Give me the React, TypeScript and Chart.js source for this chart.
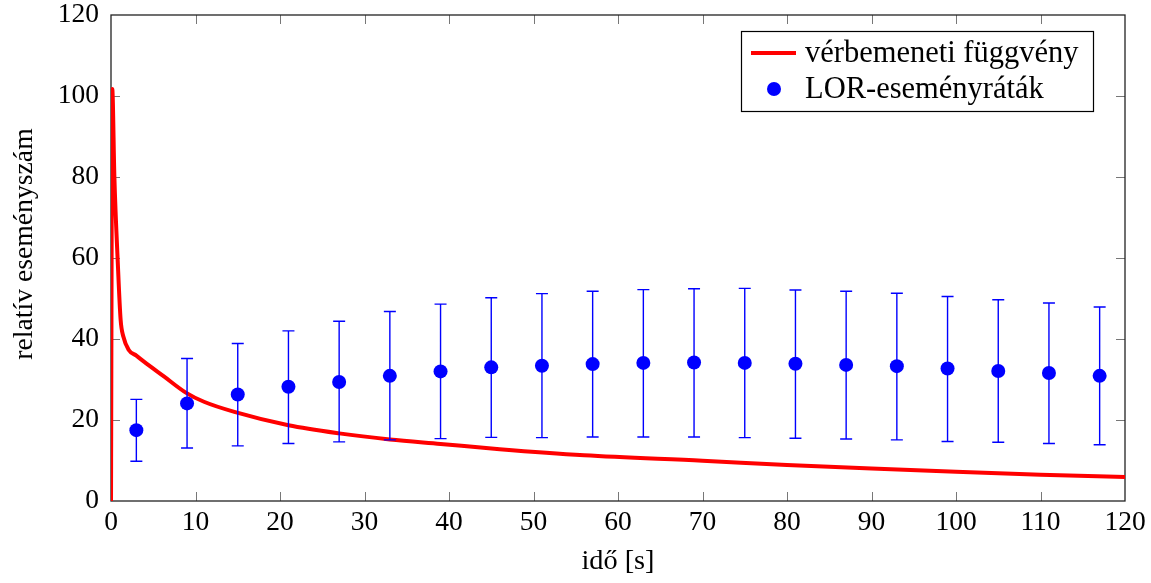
import React, { useEffect, useRef } from 'react';
import { Chart, registerables } from 'chart.js';

Chart.register(...registerables);

// Arterial input function (time in s, relative count)
const inputTimes = [0, 0.15, 0.4, 0.8, 1.14, 1.46, 2.1, 3, 3.9, 6.3, 8.9, 11, 14.6, 21, 27, 33, 39, 46, 56, 70, 80, 90, 100, 110, 120];
const inputValues = [0, 101.7, 80, 59, 44.7, 40.6, 37.3, 35.9, 34.4, 30.7, 26.7, 24.5, 22.0, 18.7, 16.7, 15.2, 14.1, 12.8, 11.3, 9.95, 8.9, 8.0, 7.2, 6.5, 5.9];

// LOR event rates with error limits
const rateTimes = [3, 9, 15, 21, 27, 33, 39, 45, 51, 57, 63, 69, 75, 81, 87, 93, 99, 105, 111, 117];
const rateValues = [17.5, 24.1, 26.3, 28.2, 29.4, 30.9, 32.0, 33.0, 33.4, 33.8, 34.1, 34.2, 34.1, 33.9, 33.6, 33.3, 32.7, 32.1, 31.6, 30.9];
const rateUpper = [25.1, 35.2, 38.9, 42.0, 44.4, 46.8, 48.6, 50.2, 51.2, 51.8, 52.2, 52.4, 52.5, 52.1, 51.8, 51.3, 50.5, 49.7, 48.9, 47.9];
const rateLower = [9.8, 13.1, 13.6, 14.2, 14.6, 15.1, 15.4, 15.7, 15.65, 15.8, 15.8, 15.8, 15.65, 15.5, 15.3, 15.1, 14.7, 14.5, 14.2, 13.9];

const xTicks = [0, 10, 20, 30, 40, 50, 60, 70, 80, 90, 100, 110, 120];
const yTicks = [0, 20, 40, 60, 80, 100, 120];

const Y_TITLE = 'relatív eseményszám';

const FONT = "'Liberation Serif', 'DejaVu Serif', serif";
const RED = '#ff0000';
const BLUE = '#0000ff';

const framePlugin = {
  id: 'frame',
  beforeDatasetsDraw(chart: any) {
    const { ctx, chartArea: a, scales } = chart;
    const x = scales.x;
    const y = scales.y;
    const len = 9;
    ctx.save();
    ctx.strokeStyle = '#777';
    ctx.lineWidth = 1;
    ctx.beginPath();
    xTicks.forEach((v) => {
      if (v === xTicks[0] || v === xTicks[xTicks.length - 1]) return;
      const px = Math.round(x.getPixelForValue(v)) + 0.5;
      ctx.moveTo(px, a.bottom);
      ctx.lineTo(px, a.bottom - len);
      ctx.moveTo(px, a.top);
      ctx.lineTo(px, a.top + len);
    });
    yTicks.forEach((v) => {
      if (v === yTicks[0] || v === yTicks[yTicks.length - 1]) return;
      const py = Math.round(y.getPixelForValue(v)) + 0.5;
      ctx.moveTo(a.left, py);
      ctx.lineTo(a.left + len, py);
      ctx.moveTo(a.right, py);
      ctx.lineTo(a.right - len, py);
    });
    ctx.stroke();
    ctx.strokeStyle = '#222';
    ctx.lineWidth = 1.3;
    ctx.strokeRect(a.left, a.top, a.right - a.left, a.bottom - a.top);

    // vertical axis title
    ctx.fillStyle = '#000';
    ctx.font = `27.7px ${FONT}`;
    ctx.textAlign = 'center';
    ctx.textBaseline = 'alphabetic';
    ctx.translate(32, 244);
    ctx.rotate(-Math.PI / 2);
    ctx.fillText(Y_TITLE, 0, 0);
    ctx.restore();
  },
};

const errorBarPlugin = {
  id: 'errorBars',
  beforeDatasetDraw(chart: any, args: any) {
    if (args.index !== 1) return;
    const { ctx, scales } = chart;
    const x = scales.x;
    const y = scales.y;
    const cap = 6;
    ctx.save();
    ctx.strokeStyle = BLUE;
    ctx.lineWidth = 1.4;
    ctx.beginPath();
    rateTimes.forEach((t, i) => {
      const px = x.getPixelForValue(t);
      const lo = y.getPixelForValue(rateLower[i]);
      const hi = y.getPixelForValue(rateUpper[i]);
      ctx.moveTo(px, lo);
      ctx.lineTo(px, hi);
      ctx.moveTo(px - cap, lo);
      ctx.lineTo(px + cap, lo);
      ctx.moveTo(px - cap, hi);
      ctx.lineTo(px + cap, hi);
    });
    ctx.stroke();
    ctx.restore();
  },
};

const legendPlugin = {
  id: 'boxLegend',
  afterDraw(chart: any) {
    const { ctx } = chart;
    const ds = chart.data.datasets;
    const left = 741;
    const top = 31;
    const w = 352;
    const h = 80;
    ctx.save();
    ctx.fillStyle = '#fff';
    ctx.fillRect(left, top, w, h);
    ctx.strokeStyle = '#000';
    ctx.lineWidth = 1.2;
    ctx.strokeRect(left + 0.5, top + 0.5, w, h);
    // line sample
    ctx.strokeStyle = ds[0].borderColor;
    ctx.lineWidth = 4;
    ctx.beginPath();
    ctx.moveTo(751, 53);
    ctx.lineTo(796, 53);
    ctx.stroke();
    // marker sample
    ctx.fillStyle = ds[1].backgroundColor;
    ctx.beginPath();
    ctx.arc(774, 89, 7, 0, Math.PI * 2);
    ctx.fill();
    ctx.fillStyle = '#000';
    ctx.font = `30.5px ${FONT}`;
    ctx.textBaseline = 'alphabetic';
    ctx.textAlign = 'left';
    ctx.fillText(ds[0].label, 805, 62);
    ctx.fillText(ds[1].label, 805, 97.5);
    ctx.restore();
  },
};

export default function App() {
  const ref = useRef<HTMLCanvasElement>(null);

  useEffect(() => {
    const canvas = ref.current;
    if (!canvas) return;
    const chart = new Chart(canvas, {
      type: 'scatter',
      data: {
        datasets: [
          {
            type: 'line',
            label: 'vérbemeneti függvény',
            data: inputTimes.map((t, i) => ({ x: t, y: inputValues[i] })),
            borderColor: RED,
            backgroundColor: RED,
            borderWidth: 4,
            pointRadius: 0,
            cubicInterpolationMode: 'monotone',
            fill: false,
            order: 1,
          } as any,
          {
            type: 'scatter',
            label: 'LOR-eseményráták',
            data: rateTimes.map((t, i) => ({ x: t, y: rateValues[i] })),
            backgroundColor: BLUE,
            borderColor: BLUE,
            borderWidth: 0,
            pointRadius: 7,
            order: 0,
          },
        ],
      },
      options: {
        responsive: false,
        devicePixelRatio: 1,
        animation: false,
        layout: { padding: { top: 15, right: 26, left: 0, bottom: 0 } },
        plugins: {
          legend: { display: false },
          tooltip: { enabled: false },
        },
        scales: {
          x: {
            type: 'linear',
            min: 0,
            max: 120,
            afterBuildTicks: (s: any) => {
              s.ticks = xTicks.map((v) => ({ value: v }));
            },
            afterFit: (s: any) => {
              s.height = 82;
              s.paddingLeft = 0;
              s.paddingRight = 0;
            },
            ticks: {
              color: '#000',
              font: { family: FONT, size: 27.5, lineHeight: 1.2 },
              padding: 5,
              maxRotation: 0,
              autoSkip: false,
            },
            grid: { display: false, drawTicks: false },
            border: { display: false },
            title: {
              display: true,
              text: 'idő [s]',
              color: '#000',
              font: { family: FONT, size: 28.3, lineHeight: 1.2 },
              padding: 4,
            },
          },
          y: {
            type: 'linear',
            min: 0,
            max: 120,
            afterBuildTicks: (s: any) => {
              s.ticks = yTicks.map((v) => ({ value: v }));
            },
            afterFit: (s: any) => {
              s.width = 111;
              s.paddingTop = 0;
              s.paddingBottom = 0;
            },
            ticks: {
              color: '#000',
              font: { family: FONT, size: 27.5, lineHeight: 1.2 },
              padding: 12,
              autoSkip: false,
            },
            grid: { display: false, drawTicks: false },
            border: { display: false },
            title: { display: false },
          },
        },
      },
      plugins: [framePlugin, errorBarPlugin, legendPlugin],
    });
    return () => chart.destroy();
  }, []);

  return (
    <div style={{ position: 'fixed', left: 0, top: 0, width: 1151, height: 583, background: '#fff' }}>
      <canvas ref={ref} width={1151} height={583} style={{ display: 'block' }} />
    </div>
  );
}
